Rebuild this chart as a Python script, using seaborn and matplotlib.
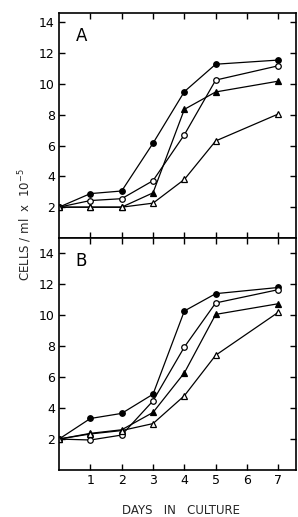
import matplotlib
matplotlib.use("Agg")
import matplotlib.pyplot as plt
import seaborn as sns
import pandas as pd

sns.set_theme(style="white")
plt.rcParams['font.family'] = ['DejaVu Sans']

days = [0, 1, 2, 3, 4, 5, 7]

# Panel A
a_filled_circle = [2.0, 2.88, 3.05, 6.15, 9.5, 11.28, 11.55]
a_open_circle = [2.0, 2.43, 2.55, 3.72, 6.7, 10.25, 11.18]
a_filled_tri = [2.0, 2.0, 2.0, 2.93, 8.35, 9.48, 10.18]
a_open_tri = [2.0, 2.0, 2.0, 2.26, 3.8, 6.3, 8.05]

# Panel B
b_filled_circle = [2.0, 3.33, 3.66, 4.9, 10.28, 11.4, 11.8]
b_open_circle = [2.0, 1.94, 2.26, 4.47, 7.95, 10.8, 11.66]
b_filled_tri = [2.0, 2.37, 2.6, 3.72, 6.28, 10.06, 10.75]
b_open_tri = [2.0, 2.33, 2.55, 3.0, 4.8, 7.42, 10.2]

panel_labels = ["A", "B"]
yticks = [2, 4, 6, 8, 10, 12, 14]
xticks = [1, 2, 3, 4, 5, 6, 7]

fig = plt.figure(figsize=(2.98, 5.17), dpi=100)
axA = fig.add_axes([0.198, 0.5397, 0.795, 0.435])
axB = fig.add_axes([0.198, 0.0909, 0.795, 0.4488])

series_style = [
    ("o", "black"),
    ("o", "white"),
    ("^", "black"),
    ("^", "white"),
]

panels = [
    (axA, [a_filled_circle, a_open_circle, a_filled_tri, a_open_tri], (0, 14.6)),
    (axB, [b_filled_circle, b_open_circle, b_filled_tri, b_open_tri], (0, 15.0)),
]

for i, (ax, series, ylim) in enumerate(panels):
    for vals, (mk, fc) in zip(series, series_style):
        df = pd.DataFrame({"day": days, "val": vals})
        sns.lineplot(data=df, x="day", y="val", ax=ax, color="black",
                     marker=mk, markerfacecolor=fc, markeredgecolor="black",
                     markersize=4 if mk == "o" else 4.5, markeredgewidth=0.9,
                     linewidth=0.9)
    ax.set_xlim(0, 7.56)
    ax.set_ylim(*ylim)
    ax.set_xticks(xticks)
    ax.set_yticks(yticks)
    ax.set_xlabel("")
    ax.set_ylabel("")
    for s in ax.spines.values():
        s.set_visible(True)
        s.set_color("black")
        s.set_linewidth(1.2)
    ax.tick_params(direction="in", length=4, width=1, top=True, right=True,
                   bottom=True, left=True, labelsize=9, colors="black", pad=3)
    ax.text(0.07, 0.9, panel_labels[i], transform=ax.transAxes, fontsize=12,
            ha="left", va="center", color="black")

axA.tick_params(labelbottom=False)

fig.text(0.607, 0.0135, "DAYS   IN   CULTURE", ha="center", va="center", fontsize=8.5)
fig.text(0.084, 0.565, r"CELLS / ml  x  10$^{-5}$", rotation=90, ha="center",
         va="center", fontsize=8.5)

fig.savefig("out.png", dpi=100)
